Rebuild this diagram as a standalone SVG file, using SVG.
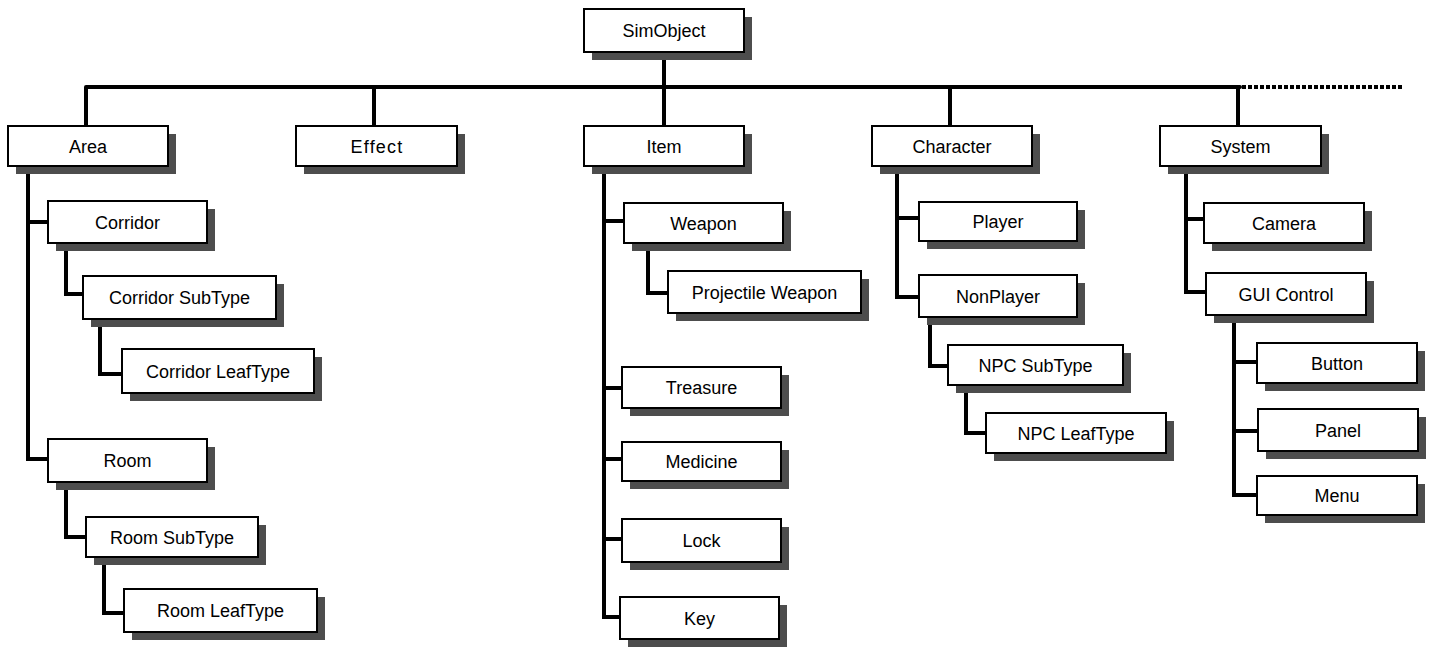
<svg xmlns="http://www.w3.org/2000/svg" width="1433" height="648" viewBox="0 0 1433 648">
<style>
.sh{fill:#4d4d4d}
.bx{fill:#fff;stroke:#000;stroke-width:2}
.t{font-family:"Liberation Sans",Arial,sans-serif;font-size:18px;fill:#000;text-anchor:middle}
.c{fill:none;stroke:#000;stroke-width:4;stroke-linecap:round;stroke-linejoin:miter}
.d{fill:none;stroke:#000;stroke-width:4;stroke-dasharray:4 2}
</style>
<rect width="1433" height="648" fill="#fff"/>
<g id="connectors">
<path class="c" d="M664 52V87M86 87H1240M86 87V126M374 87V126M664 87V126M950 87V126M1238 87V126"/>
<path class="d" d="M1242 87H1403"/>
<path class="c" d="M28 166V459H48M28 222H48M66 243V294H83M100 319V374H122M66 482V537H86M104 557V613H124"/>
<path class="c" d="M604 166V617H620M604 221H624M604 388H622M604 459H622M604 539H622M648 243V293H668"/>
<path class="c" d="M897 166V297H919M897 218H919M930 317V366H948M966 385V433H986"/>
<path class="c" d="M1186 166V292H1206M1186 219H1204M1234 315V495H1257M1234 362H1257M1234 431H1258"/>
</g>
<g id="SimObject"><rect class="sh" x="592" y="17" width="160" height="43"/><rect class="bx" x="584" y="9" width="160" height="43"/><text class="t" x="664" y="37">SimObject</text></g>
<g id="Area"><rect class="sh" x="16" y="134" width="160" height="40"/><rect class="bx" x="8" y="126" width="160" height="40"/><text class="t" x="88" y="152.5">Area</text></g>
<g id="Effect"><rect class="sh" x="304" y="134" width="161" height="40"/><rect class="bx" x="296" y="126" width="161" height="40"/><text class="t" x="377" y="152.5" letter-spacing="1.2">Effect</text></g>
<g id="Item"><rect class="sh" x="592" y="134" width="160" height="40"/><rect class="bx" x="584" y="126" width="160" height="40"/><text class="t" x="664" y="152.5">Item</text></g>
<g id="Character"><rect class="sh" x="880" y="134" width="160" height="40"/><rect class="bx" x="872" y="126" width="160" height="40"/><text class="t" x="952" y="152.5">Character</text></g>
<g id="System"><rect class="sh" x="1168" y="134" width="161" height="40"/><rect class="bx" x="1160" y="126" width="161" height="40"/><text class="t" x="1240.5" y="152.5">System</text></g>
<g id="Corridor"><rect class="sh" x="56" y="209" width="159" height="42"/><rect class="bx" x="48" y="201" width="159" height="42"/><text class="t" x="127.5" y="228.5">Corridor</text></g>
<g id="CorridorSubType"><rect class="sh" x="91" y="284" width="193" height="43"/><rect class="bx" x="83" y="276" width="193" height="43"/><text class="t" x="179.5" y="304">Corridor SubType</text></g>
<g id="CorridorLeafType"><rect class="sh" x="130" y="357" width="192" height="44"/><rect class="bx" x="122" y="349" width="192" height="44"/><text class="t" x="218" y="377.5">Corridor LeafType</text></g>
<g id="Room"><rect class="sh" x="56" y="447" width="159" height="43"/><rect class="bx" x="48" y="439" width="159" height="43"/><text class="t" x="127.5" y="467">Room</text></g>
<g id="RoomSubType"><rect class="sh" x="94" y="525" width="172" height="40"/><rect class="bx" x="86" y="517" width="172" height="40"/><text class="t" x="172" y="543.5">Room SubType</text></g>
<g id="RoomLeafType"><rect class="sh" x="132" y="597" width="193" height="43"/><rect class="bx" x="124" y="589" width="193" height="43"/><text class="t" x="220.5" y="617">Room LeafType</text></g>
<g id="Weapon"><rect class="sh" x="632" y="211" width="159" height="40"/><rect class="bx" x="624" y="203" width="159" height="40"/><text class="t" x="703.5" y="229.5">Weapon</text></g>
<g id="ProjectileWeapon"><rect class="sh" x="676" y="279" width="193" height="42"/><rect class="bx" x="668" y="271" width="193" height="42"/><text class="t" x="764.5" y="298.5">Projectile Weapon</text></g>
<g id="Treasure"><rect class="sh" x="630" y="375" width="159" height="41"/><rect class="bx" x="622" y="367" width="159" height="41"/><text class="t" x="701.5" y="394">Treasure</text></g>
<g id="Medicine"><rect class="sh" x="630" y="450" width="159" height="39"/><rect class="bx" x="622" y="442" width="159" height="39"/><text class="t" x="701.5" y="468">Medicine</text></g>
<g id="Lock"><rect class="sh" x="630" y="527" width="159" height="43"/><rect class="bx" x="622" y="519" width="159" height="43"/><text class="t" x="701.5" y="547">Lock</text></g>
<g id="Key"><rect class="sh" x="628" y="605" width="159" height="42"/><rect class="bx" x="620" y="597" width="159" height="42"/><text class="t" x="699.5" y="624.5">Key</text></g>
<g id="Player"><rect class="sh" x="927" y="210" width="158" height="39"/><rect class="bx" x="919" y="202" width="158" height="39"/><text class="t" x="998" y="228">Player</text></g>
<g id="NonPlayer"><rect class="sh" x="927" y="283" width="158" height="42"/><rect class="bx" x="919" y="275" width="158" height="42"/><text class="t" x="998" y="302.5">NonPlayer</text></g>
<g id="NPCSubType"><rect class="sh" x="956" y="353" width="175" height="40"/><rect class="bx" x="948" y="345" width="175" height="40"/><text class="t" x="1035.5" y="371.5">NPC SubType</text></g>
<g id="NPCLeafType"><rect class="sh" x="994" y="421" width="180" height="40"/><rect class="bx" x="986" y="413" width="180" height="40"/><text class="t" x="1076" y="439.5">NPC LeafType</text></g>
<g id="Camera"><rect class="sh" x="1212" y="211" width="160" height="40"/><rect class="bx" x="1204" y="203" width="160" height="40"/><text class="t" x="1284" y="229.5">Camera</text></g>
<g id="GUIControl"><rect class="sh" x="1214" y="281" width="160" height="42"/><rect class="bx" x="1206" y="273" width="160" height="42"/><text class="t" x="1286" y="300.5">GUI Control</text></g>
<g id="Button"><rect class="sh" x="1265" y="351" width="160" height="40"/><rect class="bx" x="1257" y="343" width="160" height="40"/><text class="t" x="1337" y="369.5">Button</text></g>
<g id="Panel"><rect class="sh" x="1266" y="417" width="160" height="42"/><rect class="bx" x="1258" y="409" width="160" height="42"/><text class="t" x="1338" y="436.5">Panel</text></g>
<g id="Menu"><rect class="sh" x="1265" y="484" width="160" height="39"/><rect class="bx" x="1257" y="476" width="160" height="39"/><text class="t" x="1337" y="502">Menu</text></g>
</svg>
